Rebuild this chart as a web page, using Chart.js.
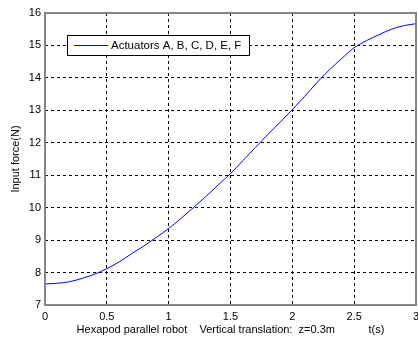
<!DOCTYPE html>
<html lang="en">
<head>
    <meta charset="UTF-8">
    <title>Input force</title>
    <script src="https://cdn.jsdelivr.net/npm/chart.js@4.4.1/dist/chart.umd.min.js"></script>
    <style>
        html, body { margin: 0; padding: 0; background: #fff; }
        #wrap { width: 418px; height: 340px; position: relative; }
    </style>
</head>
<body>
<div id="wrap"><canvas id="force-chart"></canvas></div>
<script>

    // values
    const timeValues = [0, 0.1, 0.2, 0.3, 0.4, 0.5, 0.6, 0.7, 0.8, 0.9, 1.0,
        1.1, 1.2, 1.3, 1.4, 1.5, 1.6, 1.7, 1.8, 1.9, 2.0,
        2.1, 2.2, 2.3, 2.4, 2.5, 2.6, 2.7, 2.8, 2.9, 3.0];
    const forceValues = [7.65, 7.67, 7.72, 7.82, 7.95, 8.12, 8.33, 8.58, 8.82, 9.08, 9.36,
        9.67, 10.0, 10.34, 10.7, 11.05, 11.45, 11.85, 12.25, 12.63, 13.02,
        13.43, 13.86, 14.25, 14.6, 14.93, 15.15, 15.33, 15.5, 15.61, 15.67];
    const seriesLabel = 'Actuators A, B, C, D, E, F';
    const xTitle = 'Hexapod parallel robot    Vertical translation:  z=0.3m           t(s)';
    const yTitle = 'Input force(N)';

    const font = { family: "'Liberation Sans', Arial, sans-serif", size: 11 };

    const points = timeValues.map((t, i) => ({ x: t, y: forceValues[i] }));

    // matlab style box round the plot
    const frameBox = {
        id: 'frameBox',
        afterDraw(chart) {
            const { ctx, chartArea: a } = chart;
            ctx.save();
            ctx.strokeStyle = '#858585';
            ctx.lineWidth = 2;
            ctx.strokeRect(a.left, a.top, a.right - a.left, a.bottom - a.top);
            ctx.restore();
        }
    };

    // legend drawn inside the axes like matlab does
    const legendBox = {
        id: 'legendBox',
        afterDraw(chart) {
            const ctx = chart.ctx;
            const ds = chart.data.datasets[0];
            ctx.save();
            ctx.fillStyle = '#fff';
            ctx.fillRect(67.5, 35.5, 182, 20);
            ctx.strokeStyle = '#000';
            ctx.lineWidth = 1;
            ctx.strokeRect(67.5, 35.5, 182, 20);
            ctx.strokeStyle = ds.borderColor;
            ctx.beginPath();
            ctx.moveTo(74, 45.5);
            ctx.lineTo(108, 45.5);
            ctx.stroke();
            ctx.fillStyle = '#000';
            ctx.font = '11.5px ' + font.family;
            ctx.textBaseline = 'middle';
            ctx.fillText(ds.label, 111, 46);
            ctx.restore();
        }
    };

    const gridStyle = {
        color: '#000',
        lineWidth: 1,
        drawTicks: false
    };
    const dash = { dash: [3, 3] };

    const chart = new Chart(document.getElementById('force-chart'), {
        type: 'line',
        data: {
            datasets: [{
                label: seriesLabel,
                data: points,
                borderColor: '#0000ff',
                borderWidth: 1,
                pointRadius: 0,
                fill: false,
                cubicInterpolationMode: 'monotone'
            }]
        },
        options: {
            responsive: true,
            maintainAspectRatio: false,
            animation: false,
            layout: {
                autoPadding: false,
                padding: { left: 0, right: 2, top: 13, bottom: 0 }
            },
            plugins: {
                legend: { display: false },
                tooltip: { enabled: false }
            },
            scales: {
                x: {
                    type: 'linear',
                    min: 0,
                    max: 3,
                    grid: gridStyle,
                    border: { display: false, ...dash },
                    ticks: { stepSize: 0.5, color: '#000', font: font, padding: 5, maxRotation: 0,
                        callback: (v) => String(v) },
                    title: { display: true, text: xTitle, color: '#000', font: font, padding: { top: 0, bottom: 3 } },
                    afterFit: (scale) => {
                        scale.height = 35;
                        scale.paddingLeft = 0;
                        scale.paddingRight = 0;
                    }
                },
                y: {
                    min: 7,
                    max: 16,
                    grid: gridStyle,
                    border: { display: false, ...dash },
                    ticks: { stepSize: 1, color: '#000', font: font, padding: 4,
                        callback: (v) => String(v) },
                    title: { display: true, text: yTitle, color: '#000', font: font, padding: { top: 9, bottom: 0 } },
                    afterFit: (scale) => {
                        scale.width = 45;
                        scale.paddingTop = 0;
                        scale.paddingBottom = 0;
                    }
                }
            }
        },
        plugins: [frameBox, legendBox]
    });

</script>
</body>
</html>
